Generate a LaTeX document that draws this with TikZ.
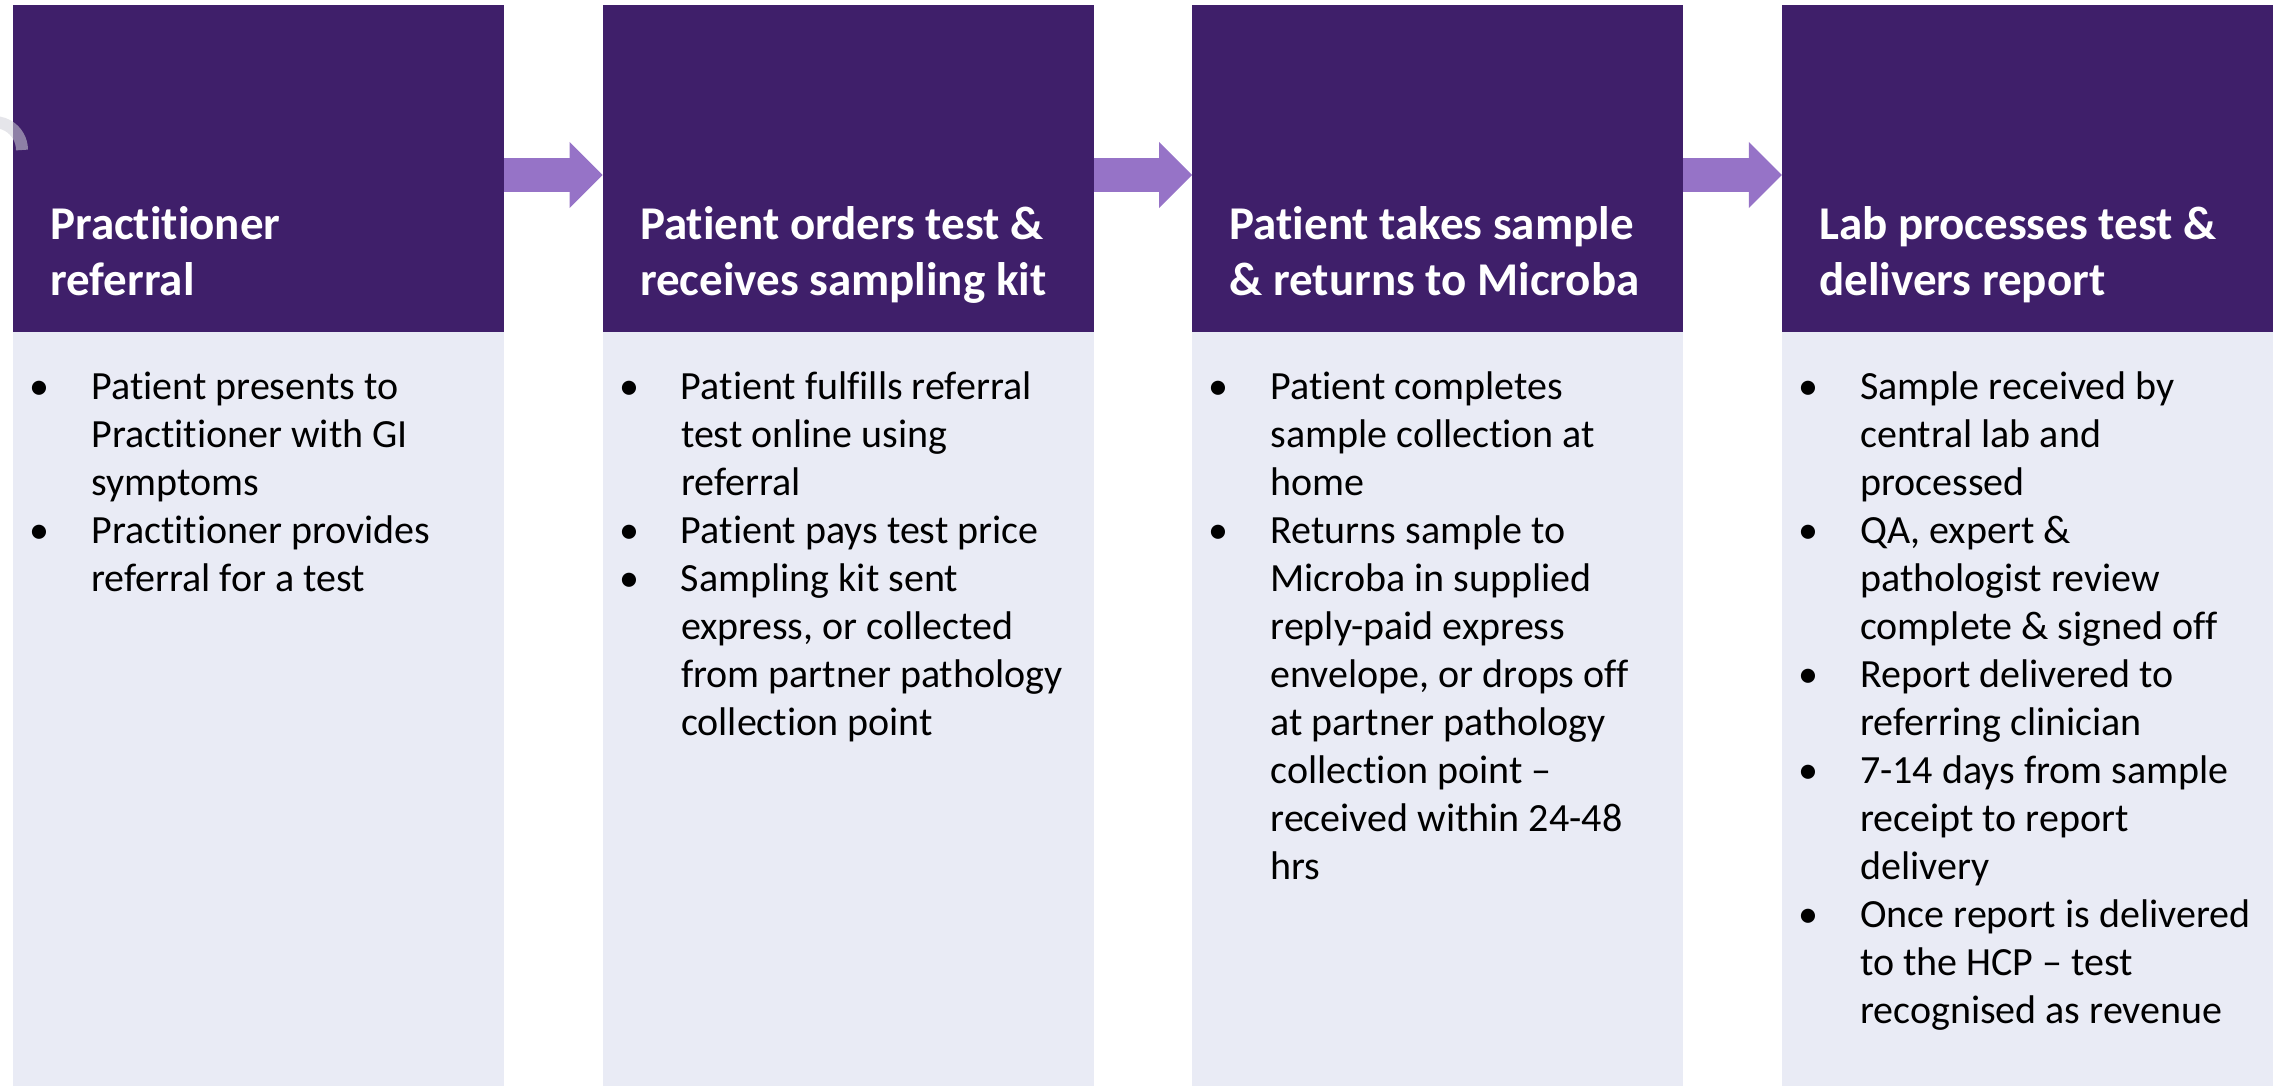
\documentclass[tikz,border=0pt]{standalone}
\usepackage{fontspec}
\setmainfont{Carlito}[RawFeature={-liga;-clig;-calt;-dlig}]
\usepackage{tikz}
\usetikzlibrary{arrows.meta,positioning}

\definecolor{stagepurple}{HTML}{3F1F6A}
\definecolor{stagearrow}{HTML}{9673C7}
\definecolor{stagebody}{HTML}{E9EBF5}
\definecolor{ringgray}{HTML}{D0D0D8}

\newcommand{\headfont}{\fontsize{23.5}{28}\selectfont\bfseries}
\newcommand{\bodyfont}{\fontsize{20}{24}\selectfont}
\newcommand{\stagetitle}[1]{\begin{tabular}[t]{@{}l@{}}#1\end{tabular}}
\newcommand{\stagelist}[1]{\begin{tabular}[t]{@{}p{31pt}@{}l@{}}#1\end{tabular}}

\begin{document}
\begin{tikzpicture}[x=0.5pt, y=-0.5pt,
    stagehead/.style={fill=stagepurple, minimum width=245.5pt, minimum height=163.5pt, inner sep=0pt, outer sep=0pt},
    stagebox/.style={fill=stagebody, minimum width=245.5pt, minimum height=377pt, inner sep=0pt, outer sep=0pt},
    headtext/.style={text=white, font=\headfont, inner sep=0pt, anchor=base west},
    itemtext/.style={font=\bodyfont, inner sep=0pt, anchor=base west},
    flowarrow/.style={stagearrow, line width=17pt, -{Triangle[length=16.5pt, width=33pt, line width=0pt]}},
    node distance=49.3pt]

    \useasboundingbox (0,0) rectangle (2275,1086);

    % Stage headers
    \node[stagehead, anchor=north west] (head1) at (13,5) {};
    \node[stagehead, right=of head1] (head2) {};
    \node[stagehead, right=of head2] (head3) {};
    \node[stagehead, right=of head3] (head4) {};

    % Stage bodies
    \foreach \i in {1,...,4} {
        \node[stagebox, below=0pt of head\i] (body\i) {};
    }

    % Faint ring at the left edge
    \draw[ringgray, opacity=0.55, line width=6pt] (22,150) arc[start angle=0, end angle=-100, radius=28];

    % Arrows between stages
    \foreach \a/\b in {1/2, 2/3, 3/4} {
        \draw[flowarrow] ([yshift=-3.25pt]head\a.east) -- ([yshift=-3.25pt]head\b.west);
    }

    % Titles
    \node[headtext] (title1) at ([xshift=18.5pt, yshift=-117pt]head1.north west)
        {\stagetitle{Practitioner\\ referral}};
    \node[headtext] (title2) at ([xshift=18.5pt, yshift=-117pt]head2.north west)
        {\stagetitle{Patient orders test \&\\ receives sampling kit}};
    \node[headtext] (title3) at ([xshift=18.5pt, yshift=-117pt]head3.north west)
        {\stagetitle{Patient takes sample\\ \& returns to Microba}};
    \node[headtext] (title4) at ([xshift=18.5pt, yshift=-117pt]head4.north west)
        {\stagetitle{Lab processes test \&\\ delivers report}};

    % Bullet points
    \node[itemtext] (list1) at ([xshift=8pt, yshift=-33.5pt]body1.north west) {\stagelist{
        • & Patient presents to\\
          & Practitioner with GI\\
          & symptoms\\
        • & Practitioner provides\\
          & referral for a test}};
    \node[itemtext] (list2) at ([xshift=8pt, yshift=-33.5pt]body2.north west) {\stagelist{
        • & Patient fulfills referral\\
          & test online using\\
          & referral\\
        • & Patient pays test price\\
        • & Sampling kit sent\\
          & express, or collected\\
          & from partner pathology\\
          & collection point}};
    \node[itemtext] (list3) at ([xshift=8pt, yshift=-33.5pt]body3.north west) {\stagelist{
        • & Patient completes\\
          & sample collection at\\
          & home\\
        • & Returns sample to\\
          & Microba in supplied\\
          & reply-paid express\\
          & envelope, or drops off\\
          & at partner pathology\\
          & collection point –\\
          & received within 24-48\\
          & hrs}};
    \node[itemtext] (list4) at ([xshift=8pt, yshift=-33.5pt]body4.north west) {\stagelist{
        • & Sample received by\\
          & central lab and\\
          & processed\\
        • & QA, expert \&\\
          & pathologist review\\
          & complete \& signed off\\
        • & Report delivered to\\
          & referring clinician\\
        • & 7-14 days from sample\\
          & receipt to report\\
          & delivery\\
        • & Once report is delivered\\
          & to the HCP – test\\
          & recognised as revenue}};
\end{tikzpicture}
\end{document}
